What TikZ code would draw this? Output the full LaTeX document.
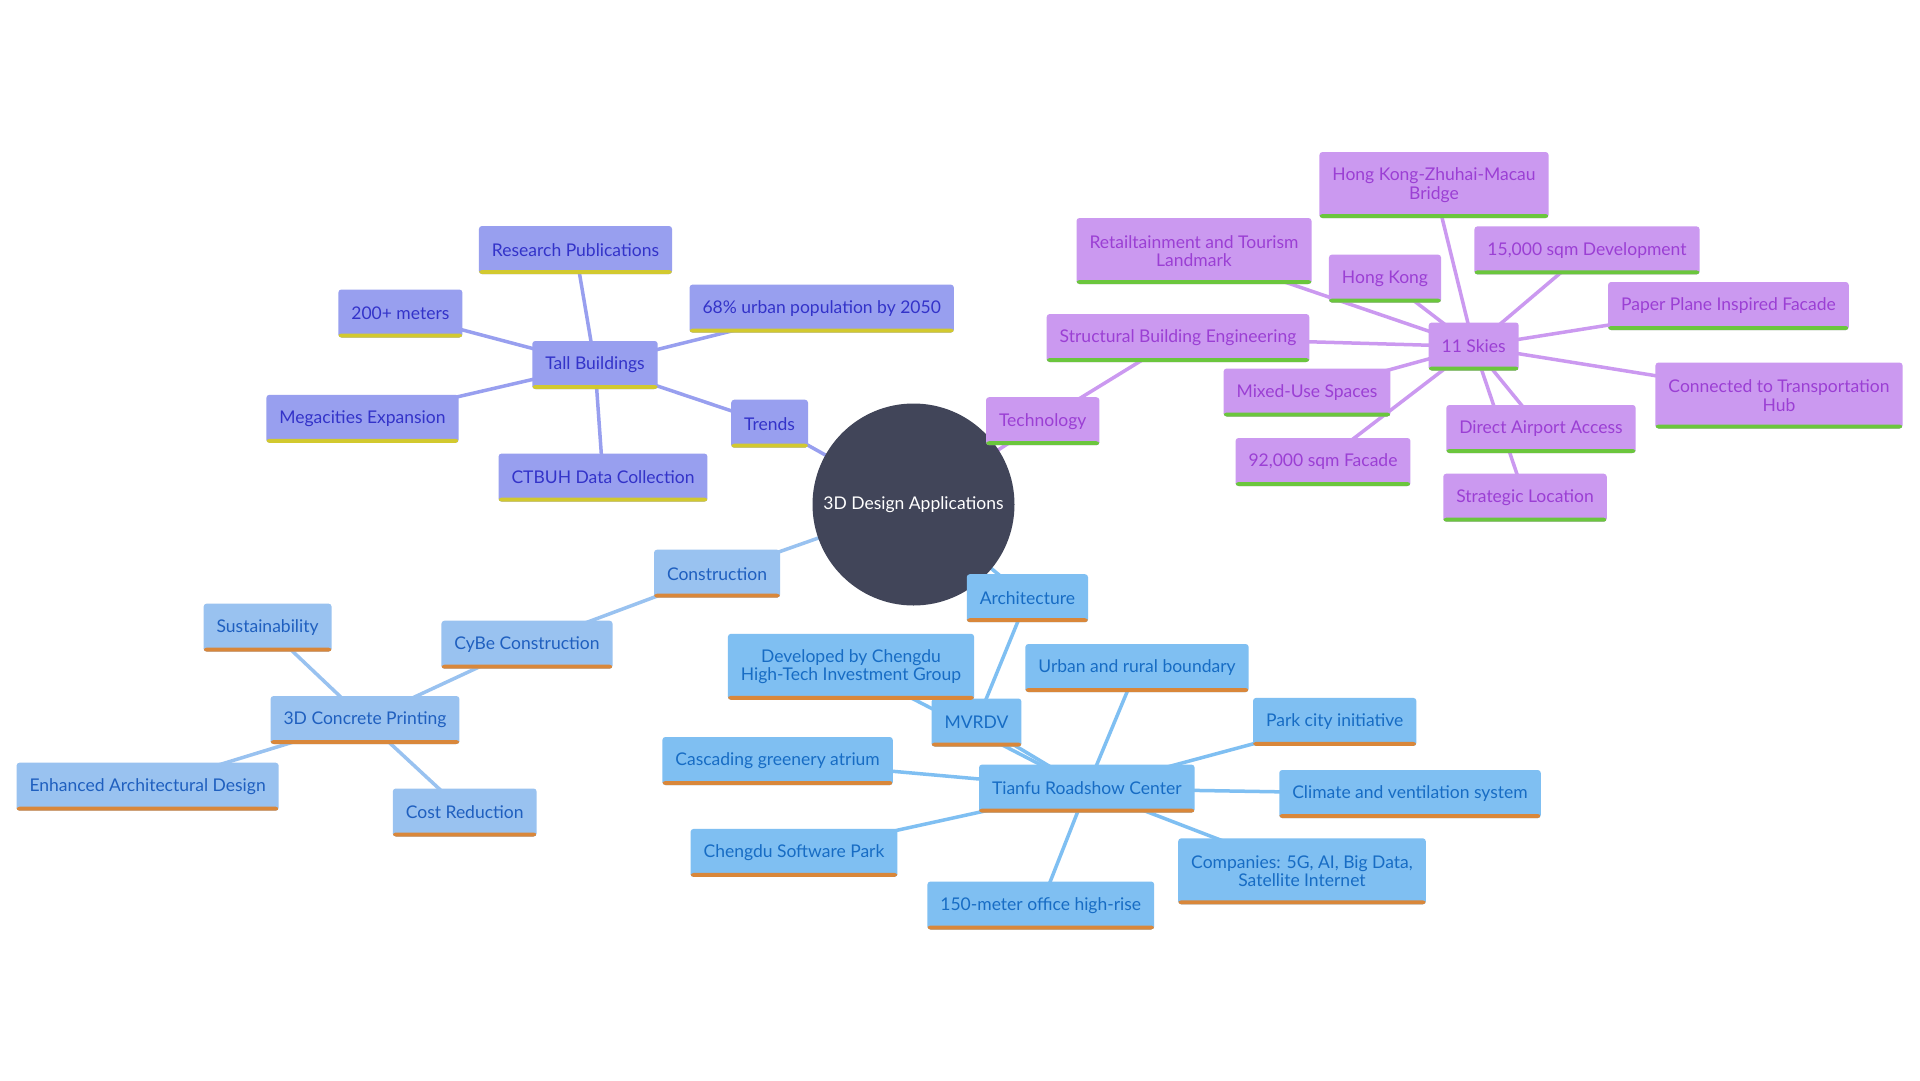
\documentclass[tikz,border=0pt]{standalone}
\usepackage{fontspec}
\setmainfont{Lato}
\usepackage{tikz}
\usetikzlibrary{backgrounds}
\definecolor{hubfill}{HTML}{414559}
\definecolor{trendfill}{HTML}{989FEF}
\definecolor{trendtext}{HTML}{3333C9}
\definecolor{trendbar}{HTML}{D2C92F}
\definecolor{techfill}{HTML}{CB99F0}
\definecolor{techtext}{HTML}{9B3FD4}
\definecolor{techbar}{HTML}{6BC63D}
\definecolor{constfill}{HTML}{99C2F0}
\definecolor{consttext}{HTML}{1F5FBF}
\definecolor{archfill}{HTML}{7FBFF2}
\definecolor{archtext}{HTML}{176CC4}
\definecolor{orangebar}{HTML}{D9873A}
\tikzset{bar/.style={path picture={\fill[#1] (path picture bounding box.south west) rectangle ([yshift=4pt]path picture bounding box.south east);}}}
\tikzstyle{leaf} = [rectangle, rounded corners=3pt, inner xsep=13pt, inner ysep=14pt, minimum height=48pt, align=center, font=\fontsize{17.5}{18.5}\selectfont]
\tikzstyle{twoline} = [minimum height=66pt]
\tikzstyle{trendbox} = [leaf, fill=trendfill, text=trendtext, bar=trendbar]
\tikzstyle{techbox} = [leaf, fill=techfill, text=techtext, bar=techbar]
\tikzstyle{constbox} = [leaf, fill=constfill, text=consttext, bar=orangebar]
\tikzstyle{archbox} = [leaf, fill=archfill, text=archtext, bar=orangebar]
\tikzstyle{hub} = [circle, fill=hubfill, text=white, minimum size=202pt, inner sep=0pt, font=\fontsize{17.5}{18.5}\selectfont]
\tikzstyle{trendlink} = [draw=trendfill, line width=3.5pt]
\tikzstyle{techlink} = [draw=techfill, line width=3.5pt]
\tikzstyle{constlink} = [draw=constfill, line width=3.5pt]
\tikzstyle{archlink} = [draw=archfill, line width=3.5pt]

\begin{document}
\begin{tikzpicture}[x=1pt, y=1pt]
\useasboundingbox (0,0) rectangle (1920,-1080);

% centre
\node[hub] (center) at (913.5,-504.5) {3D Design Applications};

% trends
\node[trendbox] (trends) at (769.6,-423.7) {Trends};
\node[trendbox] (tall) at (595,-365) {Tall Buildings};
\node[trendbox] (respub) at (575.5,-250) {Research Publications};
\node[trendbox] (meters) at (400.4,-313.5) {200+ meters};
\node[trendbox] (urban) at (821.7,-308.6) {68\% urban population by 2050};
\node[trendbox] (mega) at (362.5,-418.8) {Megacities Expansion};
\node[trendbox] (ctbuh) at (603,-477.6) {CTBUH Data Collection};

% technology
\node[techbox] (tech) at (1042.7,-421.2) {Technology};
\node[techbox] (sbe) at (1178,-338) {Structural Building Engineering};
\node[techbox] (skies) at (1473.7,-346.5) {11 Skies};
\node[techbox, twoline] (retail) at (1194,-251) {Retailtainment and Tourism\\Landmark};
\node[techbox] (hk) at (1385,-278.6) {Hong Kong};
\node[techbox, twoline] (bridge) at (1434,-185) {Hong Kong-Zhuhai-Macau\\Bridge};
\node[techbox] (dev) at (1587,-250.4) {15,000 sqm Development};
\node[techbox] (paper) at (1728.4,-306) {Paper Plane Inspired Facade};
\node[techbox, twoline] (transport) at (1779,-395.5) {Connected to Transportation\\Hub};
\node[techbox] (mixed) at (1307,-392.5) {Mixed-Use Spaces};
\node[techbox] (facade) at (1323,-462) {92,000 sqm Facade};
\node[techbox] (airport) at (1541,-429) {Direct Airport Access};
\node[techbox] (strategic) at (1525,-497.7) {Strategic Location};

% construction
\node[constbox] (constr) at (717,-573.7) {Construction};
\node[constbox] (cybe) at (527,-644.7) {CyBe Construction};
\node[constbox] (printing) at (365,-720) {3D Concrete Printing};
\node[constbox] (sustain) at (267.6,-627.6) {Sustainability};
\node[constbox] (enhanced) at (147.6,-786.7) {Enhanced Architectural Design};
\node[constbox] (cost) at (464.7,-812.5) {Cost Reduction};

% architecture
\node[archbox] (arch) at (1027.4,-598.2) {Architecture};
\node[archbox] (mvrdv) at (976.5,-722.5) {MVRDV};
\node[archbox, twoline] (chengdu) at (851,-666.8) {Developed by Chengdu\\High-Tech Investment Group};
\node[archbox] (tianfu) at (1086.8,-788.6) {Tianfu Roadshow Center};
\node[archbox] (boundary) at (1137,-668) {Urban and rural boundary};
\node[archbox] (park) at (1334.7,-721.9) {Park city initiative};
\node[archbox] (climate) at (1410,-794) {Climate and ventilation system};
\node[archbox, twoline] (companies) at (1302,-871.3) {Companies: 5G, AI, Big Data,\\Satellite Internet};
\node[archbox] (office) at (1040.8,-905.5) {150-meter office high-rise};
\node[archbox] (software) at (794,-852.9) {Chengdu Software Park};
\node[archbox] (atrium) at (777.6,-761) {Cascading greenery atrium};

\begin{scope}[on background layer]
\fill[white] (0,0) rectangle (1920,-1080);
\draw[trendlink] (center.center) -- (trends.center);
\foreach \n in {respub,meters,urban,mega,ctbuh,trends}
  \draw[trendlink] (tall.center) -- (\n.center);
\draw[techlink] (center.center) -- (tech.center);
\draw[techlink] (tech.center) -- (sbe.center);
\foreach \n in {sbe,retail,hk,bridge,dev,paper,transport,mixed,facade,airport,strategic}
  \draw[techlink] (skies.center) -- (\n.center);
\draw[constlink] (center.center) -- (constr.center);
\draw[constlink] (constr.center) -- (cybe.center);
\draw[constlink] (cybe.center) -- (printing.center);
\foreach \n in {sustain,enhanced,cost}
  \draw[constlink] (printing.center) -- (\n.center);
\draw[archlink] (center.center) -- (arch.center);
\draw[archlink] (arch.center) -- (mvrdv.center);
\draw[archlink] (mvrdv.center) -- (tianfu.center);
\foreach \n in {chengdu,boundary,park,climate,companies,office,software,atrium}
  \draw[archlink] (tianfu.center) -- (\n.center);
\end{scope}
\end{tikzpicture}
\end{document}
